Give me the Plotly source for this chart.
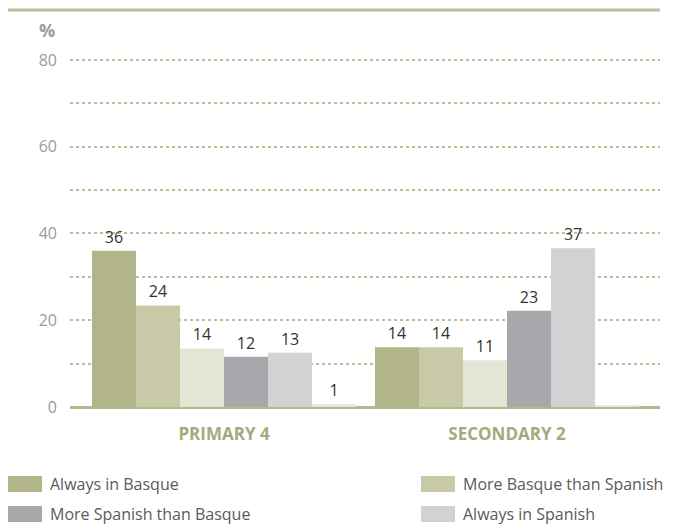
import plotly.graph_objects as go

groups = ["PRIMARY 4", "SECONDARY 2"]
series_names = ["Always in Basque", "More Basque than Spanish", "Both equally",
                "More Spanish than Basque", "Always in Spanish", "No answer"]
series_values = [
    [36.0, 13.8],
    [23.4, 13.8],
    [13.5, 10.8],
    [11.6, 22.2],
    [12.5, 36.6],
    [0.7, 0.4],
]
series_labels = [
    ["36", "14"],
    ["24", "14"],
    ["14", "11"],
    ["12", "23"],
    ["13", "37"],
    ["1", ""],
]
colors = ["#b2b588", "#c8c9a6", "#e4e5d4", "#a7a8ac", "#d1d2d4", "#e7e7e8"]
legend_items = [0, 1, 3, 4]
y_ticks = [0, 10, 20, 30, 40, 50, 60, 70, 80]
y_ticktext = ["0", "", "20", "", "40", "", "60", "", "80"]

FONT = "Open Sans"
fig = go.Figure()
xpos = list(range(len(groups)))
for name, vals, labs, col in zip(series_names, series_values, series_labels, colors):
    fig.add_trace(go.Bar(
        x=xpos, y=vals, name=name, marker=dict(color=col, line=dict(width=0)),
        text=labs, textposition="outside", cliponaxis=False,
        textfont=dict(family=FONT, size=16, color="#333333"),
        showlegend=False,
    ))

# page has an 8px body margin; figure occupies 672x517 from (8,8)
fig.update_layout(
    width=672, height=517,
    margin=dict(l=62, r=20, t=32, b=118),
    paper_bgcolor="white", plot_bgcolor="white",
    barmode="group", bargap=0.067, bargroupgap=0,
    font=dict(family=FONT),
)
fig.update_xaxes(
    range=[-0.5442, 1.5406], tickvals=xpos, ticktext=groups,
    tickfont=dict(family=FONT, size=17, color="#a6a97c", weight="bold"),
    showgrid=False, zeroline=False, showline=False, ticks="", ticklabelstandoff=15,
)
fig.update_yaxes(
    range=[0, 84.6], tickvals=y_ticks, ticktext=y_ticktext,
    tickfont=dict(family=FONT, size=16, color="#9a9a9a"),
    showgrid=True, gridcolor="#bcbf98", griddash="dot", gridwidth=2,
    zeroline=True, zerolinecolor="#b5b88c", zerolinewidth=3,
    showline=False, ticks="", ticklabelstandoff=12,
)

H = 367.0
W = 590.0
def px2x(px):
    return (px - 70) / W
def py2y(py):
    return (407 - py) / H

# top rule
fig.add_shape(type="line", xref="paper", yref="paper", x0=px2x(8), x1=px2x(660),
              y0=py2y(10), y1=py2y(10), line=dict(color="#bcbf99", width=3))
# % label
fig.add_annotation(text="<b>%</b>", xref="paper", yref="paper", x=px2x(47), y=py2y(30),
                   xanchor="center", yanchor="middle", showarrow=False,
                   font=dict(family=FONT, size=18, color="#9a9a9a"))

# legend drawn manually
cols_x = [8, 421]
rows_y = [484, 514]
for k, idx in enumerate(legend_items):
    cx = cols_x[k % 2]
    ry = rows_y[k // 2]
    fig.add_shape(type="rect", xref="paper", yref="paper",
                  x0=px2x(cx), x1=px2x(cx + 34), y0=py2y(ry - 8), y1=py2y(ry + 8),
                  fillcolor=colors[idx], line=dict(width=0))
    fig.add_annotation(text=series_names[idx], xref="paper", yref="paper",
                       x=px2x(cx + 40), y=py2y(ry), xanchor="left", yanchor="middle",
                       showarrow=False, font=dict(family=FONT, size=16, color="#5a5a5a"))

fig.write_html("out.html")
